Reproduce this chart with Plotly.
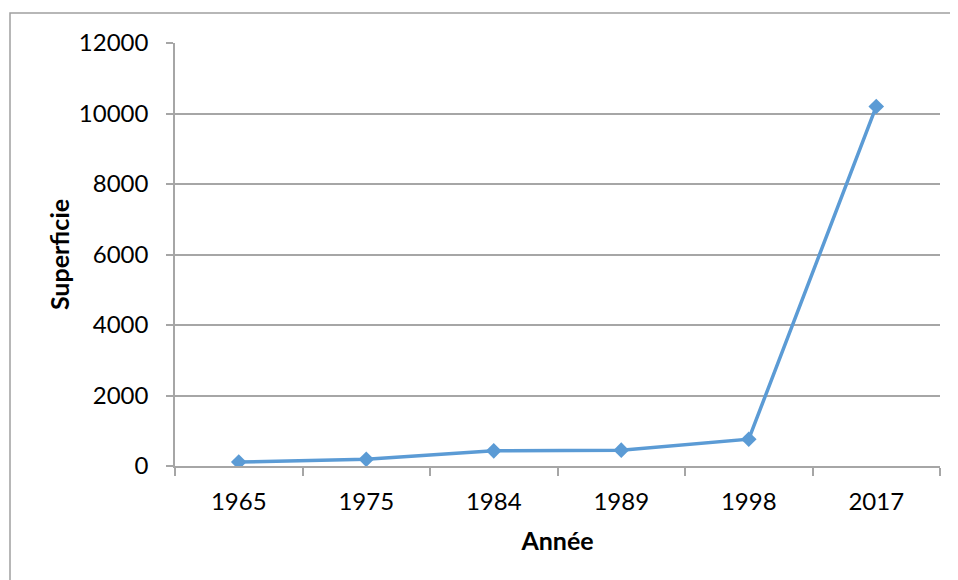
import plotly.graph_objects as go

years = ["1965", "1975", "1984", "1989", "1998", "2017"]
superficie = [110, 190, 430, 450, 760, 10200]
y_ticks = [0, 2000, 4000, 6000, 8000, 10000, 12000]

FONT = "Lato"
GRID = "#A6A6A6"

fig = go.Figure()
fig.add_trace(go.Scatter(
    x=years, y=superficie, mode="lines+markers",
    line=dict(color="#5B9BD5", width=3.5),
    marker=dict(symbol="diamond", size=12, color="#5B9BD5"),
    showlegend=False,
))

# page body has an 8px margin; figure sized to fit the window
OFF = 8
W, H = 958 - OFF, 580 - OFF
L, T = 175 - OFF, 43 - OFF
R = W - (940 - OFF)
B = H - (466 - OFF)
pw, ph = W - L - R, H - T - B

def px2x(px):
    return (px - OFF - L) / pw

def py2y(py):
    return (H - B - (py - OFF)) / ph

fig.add_shape(type="rect", xref="paper", yref="paper",
              x0=px2x(10), x1=px2x(975), y0=py2y(13), y1=py2y(600),
              line=dict(color="#A0A0A0", width=1.5), fillcolor="rgba(0,0,0,0)")

fig.update_layout(
    width=W, height=H,
    margin=dict(l=L, r=R, t=T, b=B),
    paper_bgcolor="white", plot_bgcolor="white",
    font=dict(family=FONT, size=24, color="black"),
    xaxis=dict(
        type="category", range=[-0.5, 5.5],
        tickson="boundaries", ticks="outside", ticklen=8, tickcolor=GRID, tickwidth=1.5,
        showline=True, linecolor=GRID, linewidth=1.5, showgrid=False,
        ticklabelstandoff=13,
        title=dict(text="<b>Année</b>", font=dict(family=FONT, size=25), standoff=19),
        zeroline=False,
    ),
    yaxis=dict(
        range=[0, 12000], tickvals=y_ticks, ticktext=[str(v) for v in y_ticks],
        ticks="outside", ticklen=7, tickcolor=GRID, tickwidth=1.5,
        showline=True, linecolor=GRID, linewidth=1.5,
        showgrid=True, gridcolor=GRID, gridwidth=1.5, zeroline=False,
        ticklabelstandoff=13,
        title=dict(text="<b>Superficie</b>", font=dict(family=FONT, size=25), standoff=2),
    ),
)

fig.write_html("out.html")
